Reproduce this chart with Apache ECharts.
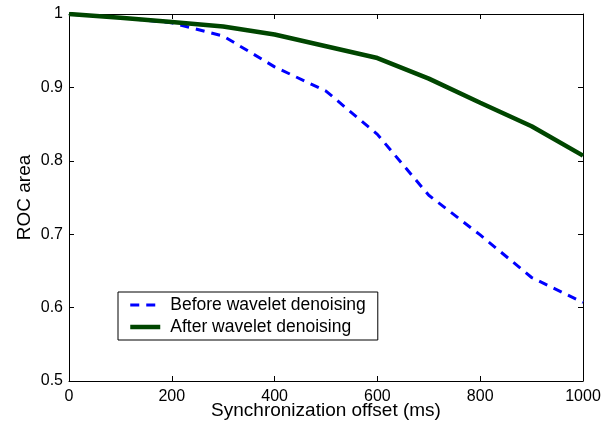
<!DOCTYPE html>
<html>
<head>
<meta charset="utf-8">
<script src="https://cdn.jsdelivr.net/npm/echarts@6/dist/echarts.min.js"></script>
<style>
  html, body { margin: 0; padding: 0; background: #fff; }
  #chart { width: 605px; height: 429px; }
</style>
</head>
<body>
<div id="chart"></div>
<script>
// data
const offsets = [0, 100, 200, 300, 400, 500, 600, 700, 800, 900, 1000];
const before = [1.0, 0.995, 0.988, 0.970, 0.928, 0.895, 0.836, 0.753, 0.699, 0.641, 0.607];
const after = [1.0, 0.995, 0.989, 0.983, 0.972, 0.956, 0.940, 0.912, 0.879, 0.847, 0.807];
const xTicks = [0, 200, 400, 600, 800, 1000];
const yTicks = [0.5, 0.6, 0.7, 0.8, 0.9, 1];

const font = 'Liberation Sans, Arial, Helvetica, sans-serif';
const chart = echarts.init(document.getElementById('chart'));

// common tick style (ticks point inward, like the matlab box)
const tick = { show: true, inside: true, length: 5, lineStyle: { color: '#000', width: 1 } };
const line = { show: true, onZero: false, lineStyle: { color: '#000', width: 1 } };

const option = {
  animation: false,
  backgroundColor: '#fff',
  grid: { left: 69, top: 14, right: 22, bottom: 48, outerBoundsMode: 'none' },
  legend: {
    left: 118,
    top: 292,
    orient: 'vertical',
    backgroundColor: '#fff',
    borderColor: '#000',
    borderWidth: 1,
    borderRadius: 0,
    padding: [4, 12, 4, 10],
    itemGap: 4,
    itemWidth: 30,
    itemHeight: 16,
    itemStyle: { opacity: 0 },
    textStyle: { color: '#000', fontSize: 17.5, fontFamily: font, lineHeight: 16, padding: [0, 0, 0, 5] },
    data: [
      { name: 'Before wavelet denoising', lineStyle: { width: 3, type: [9, 7] } },
      { name: 'After wavelet denoising', lineStyle: { width: 4.5 } }
    ]
  },
  xAxis: [
    {
      type: 'value', min: 0, max: 1000, interval: 200,
      name: 'Synchronization offset (ms)',
      nameLocation: 'middle', nameGap: 20, nameMoveOverlap: false,
      nameTextStyle: { color: '#000', fontSize: 19, fontFamily: font },
      axisLine: line, axisTick: tick, splitLine: { show: false },
      axisLabel: { color: '#000', fontSize: 16, fontFamily: font, margin: 8, formatter: v => String(v) }
    },
    {
      type: 'value', min: 0, max: 1000, interval: 200, position: 'top',
      axisLine: line, axisTick: tick, splitLine: { show: false },
      axisLabel: { show: false }
    }
  ],
  yAxis: [
    {
      type: 'value', min: 0.5, max: 1, interval: 0.1,
      name: 'ROC area',
      nameLocation: 'middle', nameGap: 35, nameRotate: 90, nameMoveOverlap: false,
      nameTextStyle: { color: '#000', fontSize: 19, fontFamily: font },
      axisLine: line, axisTick: tick, splitLine: { show: false },
      axisLabel: {
        color: '#000', fontSize: 16, fontFamily: font, margin: 6,
        formatter: v => String(Math.round(v * 10) / 10)
      }
    },
    {
      type: 'value', min: 0.5, max: 1, interval: 0.1, position: 'right',
      axisLine: line, axisTick: tick, splitLine: { show: false },
      axisLabel: { show: false }
    }
  ],
  series: [
    {
      name: 'Before wavelet denoising',
      type: 'line',
      symbol: 'none',
      data: offsets.map((x, i) => [x, before[i]]),
      itemStyle: { color: '#0000ff' },
      lineStyle: { color: '#0000ff', width: 3, type: [9, 7] }
    },
    {
      name: 'After wavelet denoising',
      type: 'line',
      symbol: 'none',
      data: offsets.map((x, i) => [x, after[i]]),
      itemStyle: { color: '#004600' },
      lineStyle: { color: '#004600', width: 4.5 }
    }
  ]
};
chart.setOption(option);
</script>
</body>
</html>
